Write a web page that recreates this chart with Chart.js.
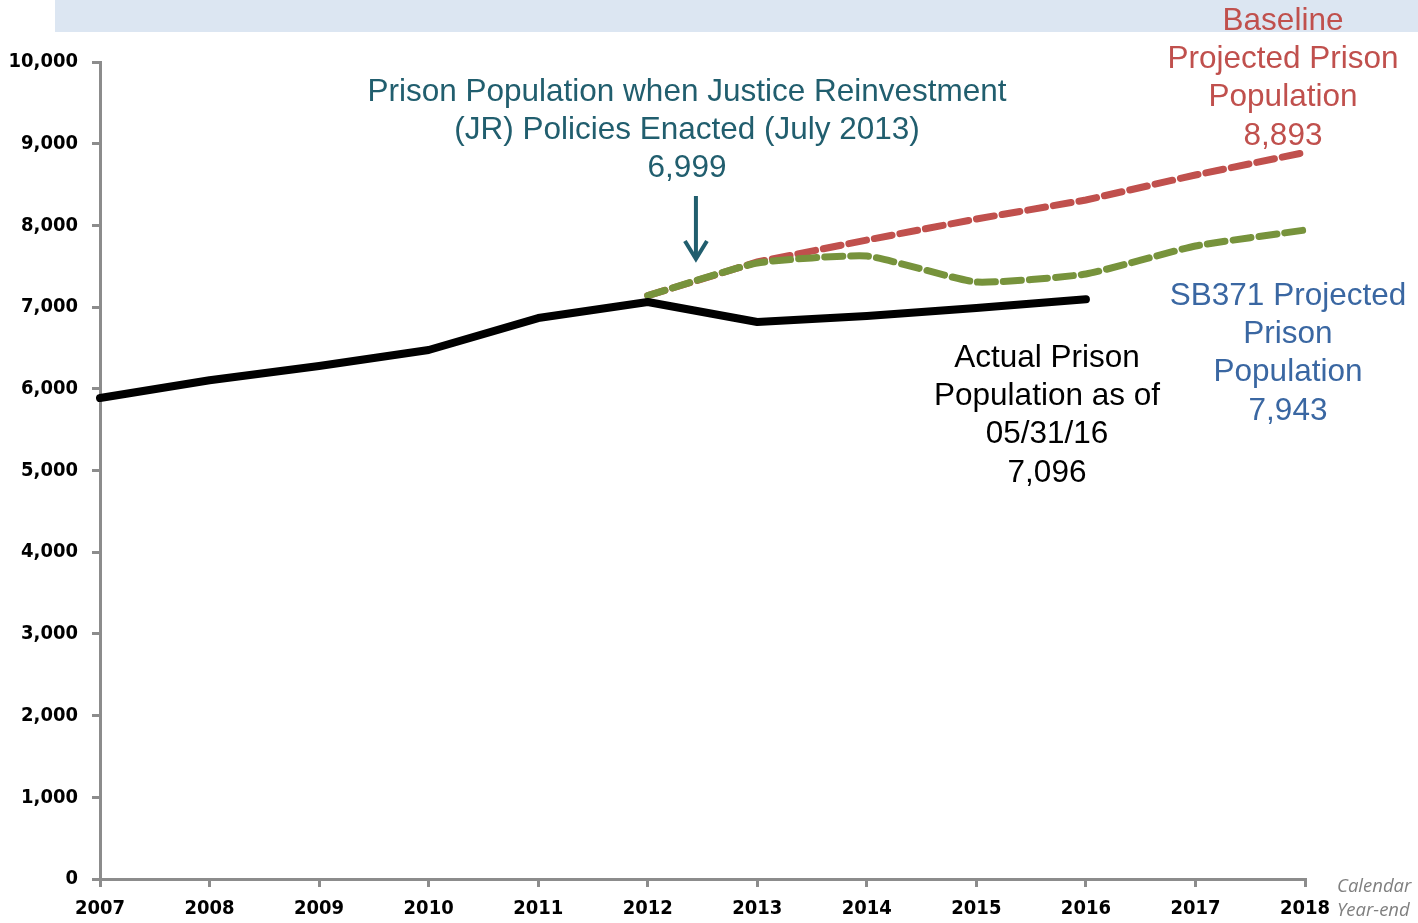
<!DOCTYPE html>
<html><head><meta charset="utf-8">
<script src="https://cdn.jsdelivr.net/npm/chart.js@4.4.0/dist/chart.umd.min.js"></script>
<style>html,body{margin:0;padding:0;background:#fff;}#wrap{width:1418px;height:923px;position:relative;}</style>
</head><body><div id="wrap"><canvas id="c" width="1418" height="923"></canvas></div>
<script>
const years = ['2007','2008','2009','2010','2011','2012','2013','2014','2015','2016','2017','2018'];
const actual = [5887, 6105, 6280, 6475, 6866, 7062, 6818, 6890, 6990, 7096, null, null];
const baseline = [null, null, null, null, null, 7140, 7552, 7821, 8078, 8311, 8617, 8893];
const sb371 = [null, null, null, null, null, 7140, 7540, 7625, 7307, 7405, 7748, 7943];
const yTicks = [0,1000,2000,3000,4000,5000,6000,7000,8000,9000,10000];

const annot = {
  id: 'annot',
  beforeDraw(chart) {
    const ctx = chart.ctx;
    ctx.save();
    ctx.fillStyle = '#DCE6F2';
    ctx.fillRect(55, 0, 1363, 32);
    ctx.restore();
  },
  afterDraw(chart) {
    const ctx = chart.ctx;
    const x = chart.scales.x;
    ctx.save();
    ctx.textAlign = 'center';
    ctx.textBaseline = 'middle';
    ctx.font = '31.5px "Liberation Sans", Arial, sans-serif';
    const block = (lines, cx, y0, color) => {
      ctx.fillStyle = color;
      lines.forEach((t, i) => ctx.fillText(t, cx, y0 + i * 38.3));
    };
    block(['Prison Population when Justice Reinvestment', '(JR) Policies Enacted (July 2013)', '6,999'], 687, 92, '#215E6E');
    block(['Actual Prison', 'Population as of', '05/31/16', '7,096'], 1047, 358, '#000000');
    block(['Baseline', 'Projected Prison', 'Population', '8,893'], 1283, 21, '#C0504D');
    block(['SB371 Projected', 'Prison', 'Population', '7,943'], 1288, 296, '#3A67A2');
    // arrow
    const ax = x.getPixelForValue(5) + (x.getPixelForValue(6) - x.getPixelForValue(5)) * 0.44;
    ctx.strokeStyle = '#215E6E';
    ctx.lineWidth = 4;
    ctx.beginPath();
    ctx.moveTo(ax, 196); ctx.lineTo(ax, 258);
    ctx.stroke();
    ctx.beginPath();
    ctx.moveTo(ax - 11, 241); ctx.lineTo(ax, 259); ctx.lineTo(ax + 11, 241);
    ctx.stroke();
    // Calendar Year-end
    ctx.font = 'italic 18.5px "Open Sans", sans-serif';
    ctx.fillStyle = '#7F7F7F';
    ctx.textAlign = 'left';
    ctx.fillText('Calendar', 1337, 887);
    ctx.fillText('Year-end', 1337, 911);
    ctx.restore();
  }
};

const tickFont = { family: '"DejaVu Sans Condensed", "DejaVu Sans", sans-serif', size: 20, weight: 'bold' };

new Chart(document.getElementById('c'), {
  type: 'line',
  data: {
    labels: years,
    datasets: [
      { label: 'Baseline', data: baseline, borderColor: '#C0504D', borderWidth: 7, borderDash: [18, 8], borderCapStyle: 'round', pointRadius: 0, tension: 0, order: 3 },
      { label: 'SB371', data: sb371, borderColor: '#77933C', borderWidth: 7, borderDash: [18, 8], borderCapStyle: 'round', pointRadius: 0, tension: 0.15, order: 2 },
      { label: 'Actual', data: actual, borderColor: '#000000', borderWidth: 8, pointRadius: 0, tension: 0, borderCapStyle: 'round', borderJoinStyle: 'round', order: 1 }
    ]
  },
  options: {
    responsive: false,
    animation: false,
    spanGaps: false,
    layout: { padding: { top: 62, right: 113, left: 0, bottom: 0 } },
    plugins: { legend: { display: false }, tooltip: { enabled: false } },
    scales: {
      x: {
        offset: false,
        grid: { display: true, drawOnChartArea: false, drawTicks: true, tickLength: 8, color: '#8C8C8C', lineWidth: 3 },
        border: { display: true, color: '#8C8C8C', width: 3 },
        ticks: { color: '#000', font: tickFont, maxRotation: 0, autoSkip: false, padding: 10 },
        afterFit(s) { s.height = 44; }
      },
      y: {
        min: 0, max: 10000,
        afterBuildTicks(s) { s.ticks = yTicks.map(v => ({ value: v })); },
        grid: { display: true, drawOnChartArea: false, drawTicks: true, tickLength: 8, color: '#8C8C8C', lineWidth: 3 },
        border: { display: true, color: '#8C8C8C', width: 3 },
        ticks: { color: '#000', font: tickFont, padding: 14, callback: v => v.toLocaleString('en-US') },
        afterFit(s) { s.width = 100; }
      }
    }
  },
  plugins: [annot]
});
</script></body></html>
